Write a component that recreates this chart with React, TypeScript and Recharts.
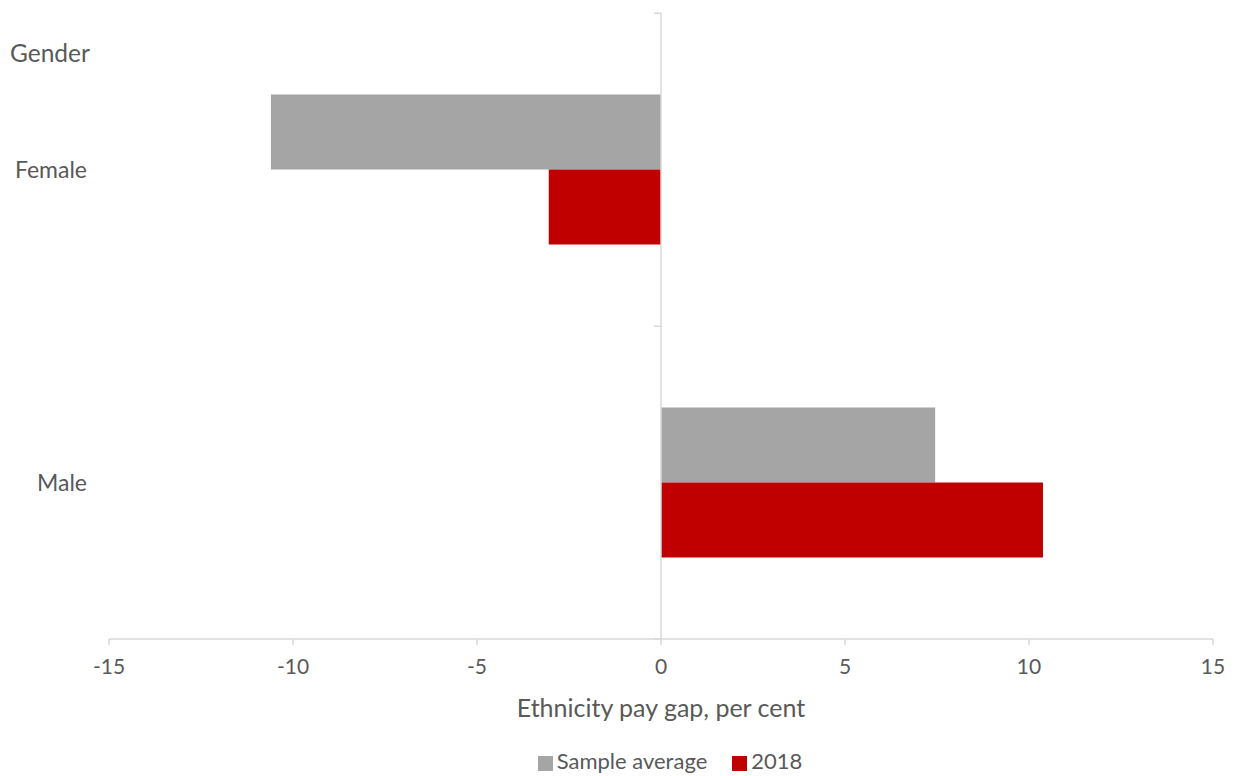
import { BarChart, Bar, XAxis, YAxis, Legend, ReferenceLine } from 'recharts'

const categories = ['Female', 'Male']
const sampleAverage = [-10.6, 7.45]
const year2018 = [-3.05, 10.38]
const xTicks = [-15, -10, -5, 0, 5, 10, 15]

const data = categories.map((name, i) => ({
  name,
  sample: sampleAverage[i],
  y2018: year2018[i],
}))

const W = 1234
const H = 776
const MARGIN = { top: 13, right: 21, left: 0, bottom: 0 }
const Y_WIDTH = 109
const X_HEIGHT = 110
const LEGEND_H = 28
const TEXT = '#595959'
const AXIS = '#D9D9D9'
const FONT = 'Lato, "Open Sans", sans-serif'

// plot geometry, used for the little category-boundary ticks on the zero line
const plotLeft = MARGIN.left + Y_WIDTH
const plotWidth = W - plotLeft - MARGIN.right
const plotHeight = H - MARGIN.top - X_HEIGHT - LEGEND_H
const zeroX = plotLeft + (0 - xTicks[0]) / (xTicks[xTicks.length - 1] - xTicks[0]) * plotWidth
const band = plotHeight / categories.length

function CategoryTick({ x, y, payload, index }: any) {
  return (
    <g>
      <text x={x} y={y} dy={8} textAnchor="end" fill={TEXT} fontSize={23} fontFamily={FONT}>
        {payload.value}
      </text>
      <line x1={zeroX - 7} x2={zeroX} y1={y - band / 2} y2={y - band / 2} stroke={AXIS} strokeWidth={1.5} />
      {index === categories.length - 1 && (
        <line x1={zeroX - 7} x2={zeroX} y1={y + band / 2} y2={y + band / 2} stroke={AXIS} strokeWidth={1.5} />
      )}
    </g>
  )
}

export default function App() {
  return (
    <div style={{ position: 'absolute', left: 0, top: 0, width: W, height: H, background: '#fff', fontFamily: FONT }}>
      <div style={{ position: 'absolute', left: 10, top: 38, fontSize: 24.5, color: TEXT }}>Gender</div>
      <BarChart
        width={W}
        height={H}
        data={data}
        layout="vertical"
        margin={MARGIN}
        barCategoryGap="26%"
        barGap={0}
      >
        <XAxis
          type="number"
          domain={[-15, 15]}
          ticks={xTicks}
          interval={0}
          height={X_HEIGHT}
          stroke={AXIS}
          strokeWidth={1.5}
          tickSize={6}
          tickMargin={14}
          tick={{ fill: TEXT, fontSize: 21, fontFamily: FONT }}
          label={{ value: 'Ethnicity pay gap, per cent', position: 'insideTop', offset: 60, fill: TEXT, fontSize: 25, fontFamily: FONT }}
        />
        <YAxis
          type="category"
          dataKey="name"
          width={Y_WIDTH}
          axisLine={false}
          tickLine={false}
          tickSize={0}
          tickMargin={22}
          tick={<CategoryTick />}
        />
        <Bar dataKey="sample" name="Sample average" fill="#A5A5A5" isAnimationActive={false} />
        <Bar dataKey="y2018" name="2018" fill="#C00000" isAnimationActive={false} />
        <ReferenceLine x={0} stroke={AXIS} strokeWidth={1.5} />
        <Legend
          verticalAlign="bottom"
          align="center"
          iconType="square"
          iconSize={15}
          itemSorter="dataKey"
          wrapperStyle={{ bottom: 2, left: 76, fontSize: 22, fontFamily: FONT }}
          formatter={(v: string) => <span style={{ color: TEXT, marginRight: 15 }}>{v}</span>}
        />
      </BarChart>
    </div>
  )
}
